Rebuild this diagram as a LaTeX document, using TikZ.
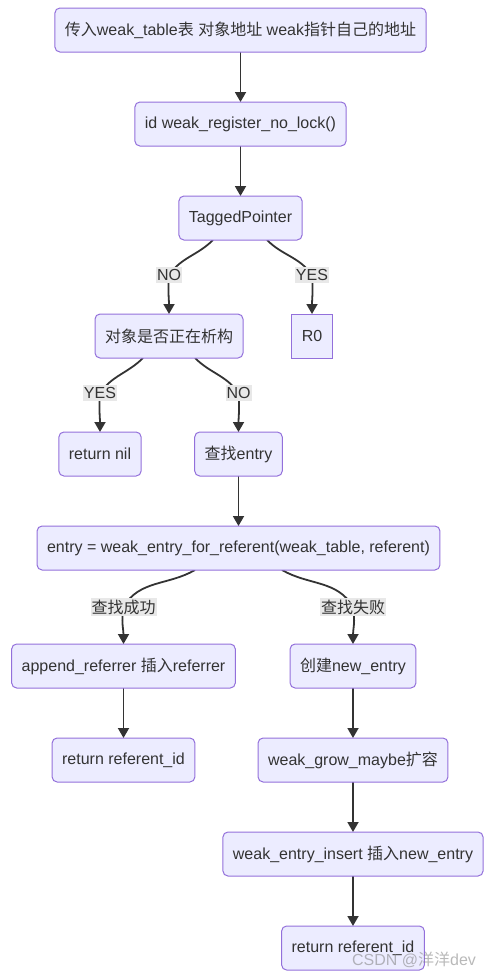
\documentclass[tikz,border=0pt]{standalone}
\usepackage{fontspec}
\setmainfont{Liberation Sans}
\newfontfamily\cjk{Noto Sans CJK SC}
\newcommand{\zh}[1]{{\cjk #1}}
\usetikzlibrary{positioning,arrows.meta,backgrounds}
\definecolor{boxfill}{HTML}{ECECFF}
\definecolor{boxline}{HTML}{9370DB}
\definecolor{darkline}{HTML}{333333}
\definecolor{labelfill}{HTML}{E8E8E8}
\tikzset{
>={Triangle[length=10pt,width=11pt]},
  punkt/.style={
    rectangle,
    rounded corners=5pt,
    fill=boxfill,
    draw=boxline, line width=1pt,
    minimum height=44pt,
    inner xsep=10pt, outer sep=0pt,
    text=darkline,
    font=\fontsize{16}{19}\selectfont},
  sharp/.style={punkt, rounded corners=0pt},
  line/.style={draw=darkline, line width=1.8pt, ->},
  edgelabel/.style={
    fill=labelfill,
    inner xsep=1pt, inner ysep=2pt,
    text=darkline,
    font=\fontsize{16}{19}\selectfont},
  watermark/.style={text=gray, opacity=.55, font=\fontsize{16}{19}\selectfont},
}

\begin{document}
\begin{tikzpicture}[x=1pt, y=-1pt]
  \useasboundingbox (0,0) rectangle (494,978);
    \node[punkt] (input) at (240.5,30) {\zh{传入}weak\_table\zh{表} \zh{对象地址} weak\zh{指针自己的地址}};
    \node[punkt, below=50pt of input] (reg) {id weak\_register\_no\_lock()};
    \node[punkt, below=50pt of reg] (tagged) {TaggedPointer};
    % first decision
    \node[punkt, below=74pt of tagged, xshift=-71.5pt] (dealloc) {\zh{对象是否正在析构}};
    \node[sharp, below=74pt of tagged, xshift=71.5pt] (rzero) {R0};
    % second decision
    \node[punkt, below=74pt of dealloc, xshift=-69pt] (retnil) {return nil};
    \node[punkt, below=74pt of dealloc, xshift=69.5pt] (find) {\zh{查找}entry};
    \node[punkt, below=50pt of find] (entry) {entry = weak\_entry\_for\_referent(weak\_table, referent)};
    % found / not found
    \node[punkt, below=74pt of entry, xshift=-115pt] (append) {append\_referrer \zh{插入}referrer};
    \node[punkt, below=74pt of entry, xshift=114.5pt] (create) {\zh{创建}new\_entry};
    \node[punkt, below=50pt of append] (retleft) {return referent\_id};
    \node[punkt, below=50pt of create] (grow) {weak\_grow\_maybe\zh{扩容}};
    \node[punkt, below=50pt of grow] (insert) {weak\_entry\_insert \zh{插入}new\_entry};
    \node[punkt, below=50pt of insert] (retright) {return referent\_id};
  % labels on the branches
    \node[edgelabel] (nolbl) at ([yshift=39pt]dealloc.north) {NO};
    \node[edgelabel] (yeslbl) at ([yshift=39pt]rzero.north) {YES};
    \node[edgelabel] (yesnil) at ([yshift=39pt]retnil.north) {YES};
    \node[edgelabel] (nofind) at ([yshift=39pt]find.north) {NO};
    \node[edgelabel] (found) at ([yshift=37pt]append.north) {\zh{查找成功}};
    \node[edgelabel] (notfound) at ([yshift=37pt]create.north) {\zh{查找失败}};
  % connectors go behind the labels
  \begin{scope}[on background layer]
    \draw[line] (input) -- (reg);
    \draw[line] (reg) -- (tagged);
    \draw[line] ([xshift=-27.5pt]tagged.south) to[out=-135,in=55] (nolbl.center) to[out=-95,in=90] (dealloc.north);
    \draw[line] ([xshift=26.5pt]tagged.south) to[out=-45,in=125] (yeslbl.center) to[out=-85,in=90] (rzero.north);
    \draw[line] ([xshift=-26pt]dealloc.south) to[out=-135,in=55] (yesnil.center) to[out=-95,in=90] (retnil.north);
    \draw[line] ([xshift=26pt]dealloc.south) to[out=-45,in=125] (nofind.center) to[out=-85,in=90] (find.north);
    \draw[line] (find) -- (entry);
    \draw[line] ([xshift=-43.5pt]entry.south) to[out=-150,in=60] (found.center) to[out=-100,in=90] (append.north);
    \draw[line] ([xshift=43.5pt]entry.south) to[out=-30,in=120] (notfound.center) to[out=-80,in=90] (create.north);
    \draw[line] (append) -- (retleft);
    \draw[line] (create) -- (grow);
    \draw[line] (grow) -- (insert);
    \draw[line] (insert) -- (retright);
  \end{scope}
    \node[watermark] (csdn) at (414,960) {CSDN @\zh{洋洋}dev};
\end{tikzpicture}
\end{document}
